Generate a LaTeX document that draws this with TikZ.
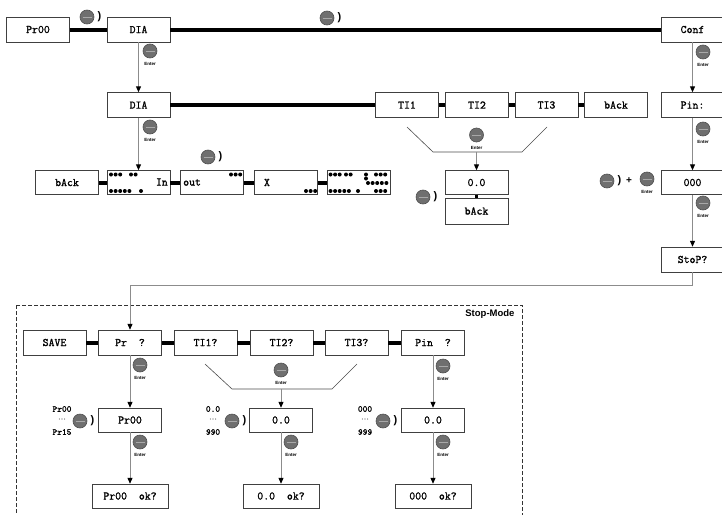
\documentclass[tikz,border=0pt]{standalone}
\usepackage{fontspec}
\setmainfont{Liberation Sans}
\setsansfont{Liberation Sans}
\setmonofont[FakeBold=1.2]{Latin Modern Mono}
\usetikzlibrary{arrows.meta}
\definecolor{knob}{HTML}{6F6F6F}
\definecolor{knobedge}{HTML}{505050}
\definecolor{knobbar}{HTML}{A8A8A8}
\tikzset{
  disp/.style={draw=black!75, fill=white, minimum width=63pt, minimum height=25pt, inner sep=0pt, font=\ttfamily\fontsize{11.5}{13}\selectfont},
  bar/.style={line width=4pt},
  flow/.style={draw=black!45, line width=1pt, -{Triangle[black,length=6pt,width=5pt]}},
  funnel/.style={draw=black!70, line width=0.6pt},
  rangelbl/.style={font=\ttfamily\fontsize{9}{10}\selectfont, inner sep=0pt}
}
\def\turn(#1,#2){\begin{scope}[shift={(#1,#2)}]
  \draw[fill=knob, draw=knobedge, line width=0.6pt] (0,0) circle (7);
  \draw[knobbar, line width=0.8pt] (-4.5,0) -- (4.5,0);
  \node[font=\sffamily\bfseries\fontsize{11}{12}\selectfont, inner sep=0pt] at (12.5,-0.5) {)};
\end{scope}}
\def\enter(#1,#2){\begin{scope}[shift={(#1,#2)}]
  \draw[fill=knob, draw=knobedge, line width=0.6pt] (0,0) circle (7);
  \draw[knobbar, line width=0.8pt] (-4.5,0) -- (4.5,0);
  \node[font=\sffamily\bfseries\fontsize{4.5}{5}\selectfont, inner sep=0pt] at (0,12.5) {Enter};
\end{scope}}
\def\dotrow(#1,#2,#3){\foreach \k in {1,...,#3}{\fill ({#1+4.6*(\k-1)},#2) circle (2);}}

\begin{document}
\begin{tikzpicture}[x=1pt, y=-1pt]
  \useasboundingbox (0,0) rectangle (722,514);
  %%%%% START %%%%%
  % main menu
  \node[disp] (pr) at (38,29.5) {Pr00};
  \node[disp] (dia) at (138.5,29.5) {DIA};
  \node[disp] (conf) at (692.5,29.5) {Conf};
  \draw[bar] (pr) -- (dia);
  \draw[bar] (dia) -- (conf);
  \turn(87,17)
  \turn(327,18)

  % DIA branch
  \node[disp] (dia2) at (138.5,105) {DIA};
  \node[disp] (ti1) at (407,105) {TI1};
  \node[disp] (ti2) at (477,105) {TI2};
  \node[disp] (ti3) at (546.5,105) {TI3};
  \node[disp] (back1) at (616,105) {bAck};
  \draw[flow] (dia) -- (dia2);
  \enter(150,51)
  \draw[bar] (dia2) -- (ti1);
  \draw[bar] (ti1) -- (ti2);
  \draw[bar] (ti2) -- (ti3);
  \draw[bar] (ti3) -- (back1);

  \node[disp, minimum height=24pt] (back2) at (67,182.5) {bAck};
  \node[disp, minimum height=24pt] (din) at (138.5,182.5) {};
  \node[disp, minimum height=24pt] (dout) at (212,182.5) {};
  \node[disp, minimum height=24pt] (dx) at (286,182.5) {};
  \node[disp, minimum height=24pt] (dall) at (359,182.5) {};
  \draw[flow] (dia2) -- (din);
  \enter(150,127)
  \draw[bar] (back2) -- (din);
  \draw[bar] (din) -- (dout);
  \draw[bar] (dout) -- (dx);
  \draw[bar] (dx) -- (dall);
  \turn(208,157)
  \node[disp, draw=none, fill=none, minimum width=0pt, anchor=east] at (168,182) {In};
  \node[disp, draw=none, fill=none, minimum width=0pt, anchor=west] at (183,182.5) {out};
  \node[disp, draw=none, fill=none, minimum width=0pt] at (267,182.5) {X};
  \dotrow(111,174.5,3) \dotrow(131,174.5,2)
  \dotrow(111,191,5) \dotrow(141,191,1)
  \dotrow(231,174.5,3)
  \dotrow(306,191,3)
  \dotrow(330.5,174.5,3) \dotrow(346,174.5,2) \dotrow(366,174.5,1) \dotrow(376,174.5,3)
  \dotrow(366,178.5,1) \dotrow(368,183,5)
  \dotrow(330.5,191,5) \dotrow(358,191,1) \dotrow(376,191,3)

  % TI select
  \coordinate (tisel) at (476.5,152);
  \draw[funnel] (407,127) -- (433,152) -- (522,152) -- (547,127);
  \enter(476.5,135)
  \node[disp, minimum height=24pt] (val) at (476.5,182.5) {0.0};
  \node[disp, minimum height=26pt] (back3) at (476.5,211) {bAck};
  \draw[flow] (tisel) -- (val);
  \draw[line width=3pt] (val) -- (back3);
  \turn(423,197)

  % Conf branch
  \node[disp] (pin) at (692.5,105) {Pin:};
  \node[disp, minimum height=24pt] (code) at (692.5,182.5) {000};
  \node[disp] (stop) at (692.5,259.5) {StoP?};
  \draw[flow] (conf) -- (pin);
  \enter(703,52)
  \draw[flow] (pin) -- (code);
  \enter(703,129)
  \turn(607,181)
  \node[font=\sffamily\bfseries\fontsize{10}{12}\selectfont] at (629,181) {+};
  \enter(647,179)
  \draw[flow] (code) -- (stop);
  \enter(703,203)

  % stop mode
  \draw[dash pattern=on 4pt off 2pt, black!80] (16,305) rectangle (522,530);
  \node[anchor=east, font=\sffamily\bfseries\fontsize{9.5}{11}\selectfont] at (518,314) {Stop-Mode};
  \node[disp] (save) at (54.5,342.5) {SAVE};
  \node[disp] (prq) at (130,342.5) {Pr~~?};
  \node[disp] (ti1q) at (205.5,342.5) {TI1?};
  \node[disp] (ti2q) at (281.5,342.5) {TI2?};
  \node[disp] (ti3q) at (356.5,342.5) {TI3?};
  \node[disp] (pinq) at (433,342.5) {Pin~~?};
  \draw[flow] (stop.south) -- ++(0,13) -| (prq.north);
  \draw[bar] (save) -- (prq);
  \draw[bar] (prq) -- (ti1q);
  \draw[bar] (ti1q) -- (ti2q);
  \draw[bar] (ti2q) -- (ti3q);
  \draw[bar] (ti3q) -- (pinq);

  \node[disp, minimum height=24pt] (prv) at (130,420) {Pr00};
  \node[disp, minimum height=24pt] (tiv) at (281,420) {0.0};
  \node[disp, minimum height=24pt] (pinv) at (433,420) {0.0};
  \coordinate (tisel2) at (281,389);
  \draw[flow] (prq) -- (prv);
  \enter(140,365)
  \draw[funnel] (205,364) -- (232,389) -- (332,389) -- (357,364);
  \enter(281,370)
  \draw[flow] (tisel2) -- (tiv);
  \draw[flow] (pinq) -- (pinv);
  \enter(443,366)

  \node[rangelbl] at (62,409) {Pr00};
  \node[rangelbl, font=\ttfamily\fontsize{5}{6}\selectfont] at (62,419) {...};
  \node[rangelbl] at (62,432) {Pr15};
  \turn(80,421)
  \node[rangelbl] at (213,409) {0.0};
  \node[rangelbl, font=\ttfamily\fontsize{5}{6}\selectfont] at (213,419) {...};
  \node[rangelbl] at (213,432) {990};
  \turn(232,421)
  \node[rangelbl] at (365,409) {000};
  \node[rangelbl, font=\ttfamily\fontsize{5}{6}\selectfont] at (365,419) {...};
  \node[rangelbl] at (365,432) {999};
  \turn(383,421)

  \node[disp, minimum width=76pt, minimum height=24pt] (prok) at (130,496) {Pr00~~ok?};
  \node[disp, minimum width=76pt, minimum height=24pt] (tiok) at (281,496) {0.0~~ok?};
  \node[disp, minimum width=76pt, minimum height=24pt] (pinok) at (433,496) {000~~ok?};
  \draw[flow] (prv) -- (prok);
  \enter(140,442)
  \draw[flow] (tiv) -- (tiok);
  \enter(291,442)
  \draw[flow] (pinv) -- (pinok);
  \enter(443,442)
  %%%%% END %%%%%
\end{tikzpicture}
\end{document}
